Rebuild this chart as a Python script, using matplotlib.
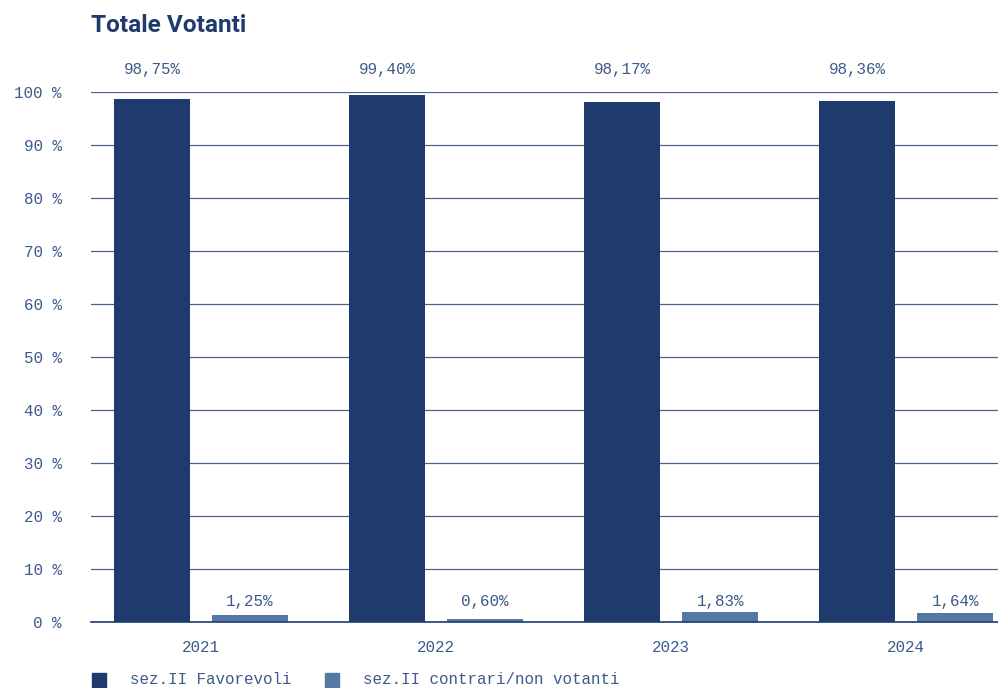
import matplotlib
matplotlib.use("Agg")
import matplotlib.pyplot as plt
import numpy as np
from matplotlib.patches import Rectangle
from matplotlib import font_manager

# Data
years = ["2021", "2022", "2023", "2024"]
favorevoli = [98.75, 99.40, 98.17, 98.36]
contrari = [1.25, 0.60, 1.83, 1.64]
fav_labels = ["98,75%", "99,40%", "98,17%", "98,36%"]
con_labels = ["1,25%", "0,60%", "1,83%", "1,64%"]
series_names = ["sez.II Favorevoli", "sez.II contrari/non votanti"]
yticks = [0, 10, 20, 30, 40, 50, 60, 70, 80, 90, 100]

DARK = "#1f3b6e"
LIGHT = "#5479a5"
TEXT = "#3d5a8a"
GRID = "#1f3b6e"
mono = ["Liberation Mono", "DejaVu Sans Mono"]
FS = 11.4

installed = {f.name for f in font_manager.fontManager.ttflist}
title_family = "Liberation Sans Narrow" if "Liberation Sans Narrow" in installed else "Roboto"

fig = plt.figure(figsize=(9.98, 6.88), dpi=100)
W, H = 998, 688
ax = fig.add_axes([91 / W, 1 - 622 / H, (998 - 91) / W, (622 - 92) / H])

x = np.arange(len(years))
bw = 0.323
off = 0.2085
ax.bar(x - off, favorevoli, bw, color=DARK, zorder=3)
ax.bar(x + off, contrari, bw, color=LIGHT, zorder=3)

for xi, lab in zip(x, fav_labels):
    ax.text(xi - off, 104.2, lab, ha="center", va="center", fontsize=FS,
            family=mono, color=TEXT, clip_on=False)
for xi, lab in zip(x, con_labels):
    ax.text(xi + off, 3.9, lab, ha="center", va="center", fontsize=FS,
            family=mono, color=TEXT)

ax.set_xlim(-0.468, 3.39)
ax.set_ylim(0, 100)
ax.set_yticks(yticks)
ax.set_yticklabels([f"{v} %" for v in yticks], family=mono, fontsize=FS, color=TEXT)
ax.set_xticks(x)
ax.set_xticklabels(years, family=mono, fontsize=FS, color=TEXT)
ax.tick_params(axis="both", length=0)
ax.tick_params(axis="y", pad=21)
ax.tick_params(axis="x", pad=13)
ax.yaxis.grid(True, color=GRID, linewidth=0.9, alpha=0.8, zorder=0)
ax.set_axisbelow(True)
for s in ["top", "right", "left"]:
    ax.spines[s].set_visible(False)
ax.spines["bottom"].set_color(GRID)
ax.spines["bottom"].set_linewidth(1.2)
ax.spines["bottom"].set_zorder(4)

# Title
fig.text(91 / W, 1 - 26 / H, "Totale Votanti", ha="left", va="center",
         fontsize=19 if title_family == "Liberation Sans Narrow" else 17.6,
         fontweight="bold", family=[title_family, "DejaVu Sans"], color=DARK)

# Legend
for (sx, tx), name, col in zip([(92, 130), (325, 363)], series_names, [DARK, LIGHT]):
    fig.patches.append(Rectangle((sx / W, 1 - 687 / H), 14 / W, 14 / H,
                                 transform=fig.transFigure, color=col))
    fig.text(tx / W, 1 - 680 / H, name, ha="left", va="center", fontsize=FS,
             family=mono, color=TEXT)

fig.savefig("out.png", dpi=100)
